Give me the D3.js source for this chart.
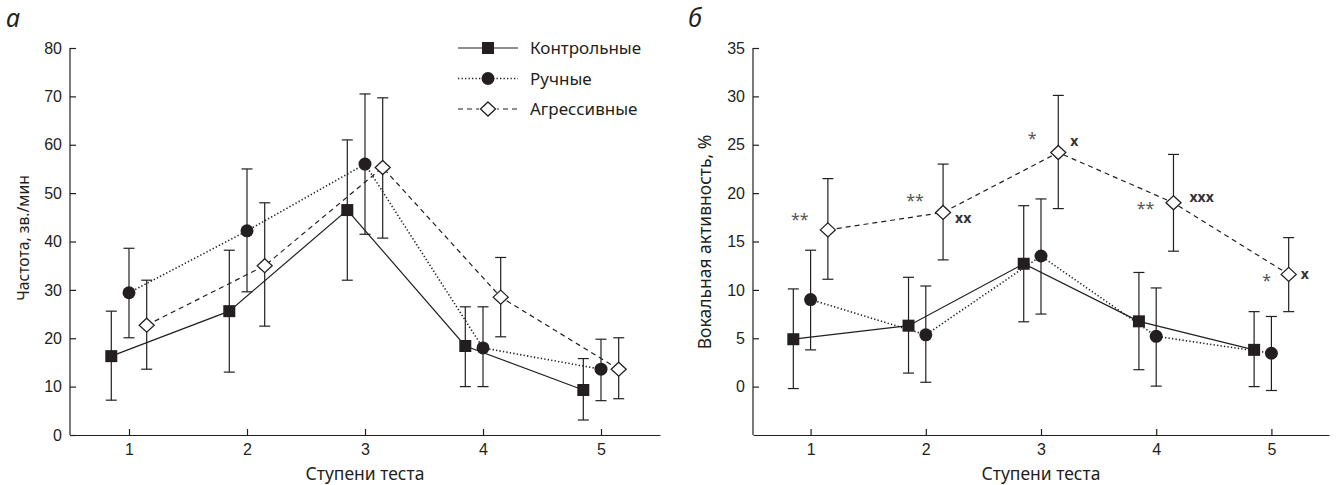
<!DOCTYPE html>
<html>
<head>
<meta charset="utf-8">
<script src="https://cdn.jsdelivr.net/npm/d3@7"></script>
<style>
  body { margin: 0; background: #fff; }
  svg { display: block; font-family: "Noto Sans", "Open Sans", sans-serif; }
  .tick text { font-size: 16px; fill: #231f20; }
  .domain, .tick line { stroke: #231f20; stroke-width: 1.2; }
</style>
</head>
<body>
<svg id="chart" width="1339" height="485"></svg>
<script>
const steps = [1, 2, 3, 4, 5]
const groups = ['Контрольные', 'Ручные', 'Агрессивные']

// panel а: частота, зв./мин  (mean, upper, lower)
const freqControl = [16.3, 25.6, 46.5, 18.4, 9.3]
const freqControlHi = [25.6, 38.2, 61.0, 26.5, 15.8]
const freqControlLo = [7.2, 13.0, 32.0, 10.0, 3.1]
const freqTame = [29.4, 42.2, 56.0, 18.0, 13.6]
const freqTameHi = [38.6, 55.0, 70.5, 26.5, 19.8]
const freqTameLo = [20.1, 29.6, 41.5, 10.0, 7.1]
const freqAggr = [22.7, 35.0, 55.3, 28.5, 13.6]
const freqAggrHi = [32.0, 48.0, 69.7, 36.7, 20.1]
const freqAggrLo = [13.6, 22.5, 40.7, 20.3, 7.5]

// panel б: вокальная активность, %
const vocControl = [4.9, 6.3, 12.7, 6.75, 3.8]
const vocControlHi = [10.1, 11.3, 18.7, 11.8, 7.75]
const vocControlLo = [-0.2, 1.4, 6.7, 1.75, 0.0]
const vocTame = [9.0, 5.35, 13.5, 5.2, 3.45]
const vocTameHi = [14.1, 10.4, 19.4, 10.2, 7.25]
const vocTameLo = [3.8, 0.45, 7.5, 0.05, -0.4]
const vocAggr = [16.2, 18.0, 24.2, 19.0, 11.6]
const vocAggrHi = [21.5, 23.0, 30.1, 24.0, 15.4]
const vocAggrLo = [11.1, 13.1, 18.4, 14.0, 7.75]

// significance marks for aggressive group
const starMarks = ['**', '**', '*', '**', '*']
const crossMarks = ['', 'xx', 'x', 'xxx', 'x']

const freqTicks = [0, 10, 20, 30, 40, 50, 60, 70, 80]
const vocTicks = [0, 5, 10, 15, 20, 25, 30, 35]

const ink = '#231f20'
const offsets = [-0.15, 0, 0.15]
const dashes = [null, '1.3,2.2', '5,4']
const svg = d3.select('#chart')

function drawPanel (opts) {
  const x = d3.scaleLinear().domain([0.5, 5.5]).range(opts.xRange)
  const y = d3.scaleLinear().domain(opts.yDomain).range([435, 48])
  const g = svg.append('g')

  g.append('g')
    .attr('transform', 'translate(0,435)')
    .call(d3.axisBottom(x).tickValues(steps).tickFormat(d3.format('d'))
      .tickSizeInner(-6).tickSizeOuter(0).tickPadding(9))

  g.append('g')
    .attr('transform', `translate(${opts.xRange[0]},0)`)
    .call(d3.axisLeft(y).tickValues(opts.ticks).tickFormat(d3.format('d'))
      .tickSizeInner(-6).tickSizeOuter(0).tickPadding(8))
    .select('.domain').attr('d', `M0,${y(opts.ticks[opts.ticks.length - 1])}V435`)

  g.append('text')
    .attr('x', x(3)).attr('y', 480)
    .attr('text-anchor', 'middle')
    .attr('font-size', 17.5).attr('fill', ink)
    .text('Ступени теста')

  g.append('text')
    .attr('transform', `translate(${opts.titleX},${opts.titleY}) rotate(-90)`)
    .attr('text-anchor', 'middle')
    .attr('font-size', opts.titleSize).attr('fill', ink)
    .text(opts.yTitle)

  g.append('text')
    .attr('x', opts.letterX).attr('y', 27)
    .attr('font-size', 25).attr('font-style', 'italic').attr('fill', ink)
    .text(opts.letter)

  const series = opts.series.map((s, i) => ({
    i: i,
    pts: steps.map((st, k) => ({ x: x(st + offsets[i]), y: y(s[0][k]), hi: y(s[1][k]), lo: y(s[2][k]) }))
  }))

  // error bars
  series.forEach(s => {
    const eb = g.append('g').attr('stroke', ink).attr('stroke-width', 1.2)
    s.pts.forEach(p => {
      eb.append('line').attr('x1', p.x).attr('x2', p.x).attr('y1', p.hi).attr('y2', p.lo)
      eb.append('line').attr('x1', p.x - 5.5).attr('x2', p.x + 5.5).attr('y1', p.hi).attr('y2', p.hi)
      eb.append('line').attr('x1', p.x - 5.5).attr('x2', p.x + 5.5).attr('y1', p.lo).attr('y2', p.lo)
    })
  })

  const line = d3.line().x(d => d.x).y(d => d.y)
  series.forEach(s => {
    g.append('path')
      .attr('d', line(s.pts))
      .attr('fill', 'none').attr('stroke', ink)
      .attr('stroke-width', s.i === 1 ? 1.6 : 1.2)
      .attr('stroke-dasharray', dashes[s.i])
  })

  series.forEach(s => {
    s.pts.forEach(p => drawMarker(g, s.i, p.x, p.y))
  })

  return { x, y, g }
}

function drawMarker (g, i, cx, cy) {
  if (i === 0) {
    g.append('rect').attr('x', cx - 6).attr('y', cy - 6).attr('width', 12).attr('height', 12).attr('fill', ink)
  } else if (i === 1) {
    g.append('circle').attr('cx', cx).attr('cy', cy).attr('r', 6.5).attr('fill', ink)
  } else {
    g.append('path')
      .attr('d', `M${cx},${cy - 7}L${cx + 7.5},${cy}L${cx},${cy + 7}L${cx - 7.5},${cy}Z`)
      .attr('fill', '#fff').attr('stroke', ink).attr('stroke-width', 1.3)
  }
}

const left = drawPanel({
  xRange: [70, 660],
  yDomain: [0, 80],
  ticks: freqTicks,
  yTitle: 'Частота, зв./мин',
  titleX: 29,
  titleY: 238,
  titleSize: 15.7,
  letter: 'а',
  letterX: 6,
  series: [[freqControl, freqControlHi, freqControlLo], [freqTame, freqTameHi, freqTameLo], [freqAggr, freqAggrHi, freqAggrLo]]
})

const right = drawPanel({
  xRange: [753, 1329],
  yDomain: [-5, 35],
  ticks: vocTicks,
  yTitle: 'Вокальная активность, %',
  titleX: 711,
  titleY: 242,
  titleSize: 17.5,
  letter: 'б',
  letterX: 688,
  series: [[vocControl, vocControlHi, vocControlLo], [vocTame, vocTameHi, vocTameLo], [vocAggr, vocAggrHi, vocAggrLo]]
})

// legend
const legend = svg.append('g').attr('transform', 'translate(458,48)')
groups.forEach((name, i) => {
  const row = legend.append('g').attr('transform', `translate(0,${i * 30.5})`)
  row.append('line').attr('x1', 0).attr('x2', 60).attr('y1', 0).attr('y2', 0)
    .attr('stroke', ink).attr('stroke-width', i === 1 ? 1.6 : 1.2)
    .attr('stroke-dasharray', dashes[i])
  if (i === 2) {
    row.append('rect').attr('x', 21).attr('y', -8).attr('width', 18).attr('height', 16).attr('fill', '#fff')
  }
  drawMarker(row, i, 30, 0)
  row.append('text').attr('x', 72).attr('y', 6)
    .attr('font-size', 17).attr('fill', ink).text(name)
})

// significance annotations on panel б
const ann = right.g.append('g')
steps.forEach((st, k) => {
  const px = right.x(st + offsets[2])
  const py = right.y(vocAggr[k])
  const starDx = [-28, -28, -26, -28, -22][k]
  const starDy = [-5, -6, -8, 11, 12][k]
  ann.append('text').attr('x', px + starDx).attr('y', py + starDy)
    .attr('text-anchor', 'middle').attr('fill', '#555').attr('font-size', 16)
    .text(starMarks[k])
  if (crossMarks[k]) {
    const cDx = [0, 12, 12, 16, 12][k]
    const cDy = [0, 11, -6, -1, 5][k]
    ann.append('text').attr('x', px + cDx).attr('y', py + cDy)
      .attr('fill', '#333').attr('font-weight', 'bold').attr('font-size', 14)
      .text(crossMarks[k])
  }
})
</script>
</body>
</html>
